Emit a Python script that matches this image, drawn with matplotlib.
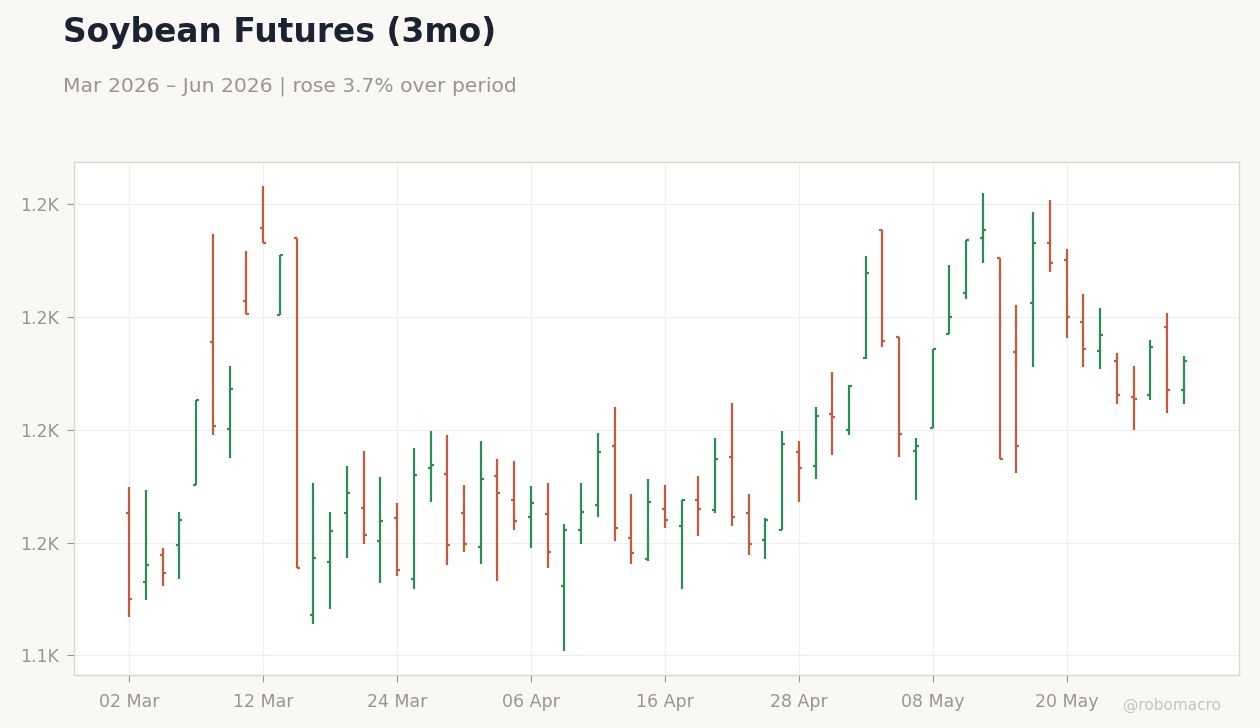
import matplotlib
matplotlib.use('Agg')
import matplotlib.pyplot as plt
from matplotlib.ticker import FuncFormatter
from decimal import Decimal, ROUND_HALF_UP
import pandas as pd

# trading days, Good Friday and Memorial Day closed
days = pd.bdate_range('2026-03-02', '2026-06-01')
days = days.drop([pd.Timestamp('2026-04-03'), pd.Timestamp('2026-05-25')])

opens = [1152.6, 1146.5, 1148.9, 1149.8, 1155.1, 1167.8, 1160.1, 1171.4, 1177.9, 1170.2,
         1177.0, 1143.6, 1148.3, 1152.6, 1153.1, 1150.1, 1152.2, 1146.8, 1156.6, 1156.1,
         1152.6, 1149.6, 1155.9, 1153.8, 1152.3, 1152.5, 1146.1, 1151.1, 1153.3, 1158.6,
         1150.4, 1148.5, 1153.0, 1151.5, 1153.8, 1152.9, 1157.6, 1152.6, 1150.2, 1151.1,
         1158.0, 1156.8, 1161.4, 1160.0, 1166.4, 1177.7, 1168.2, 1158.1, 1160.2, 1168.5,
         1172.1, 1177.0, 1175.2, 1166.9, 1171.2, 1176.6, 1175.1, 1169.6, 1167.0, 1166.1,
         1162.9, 1163.1, 1169.1, 1163.5]
highs = [1154.9, 1154.7, 1149.5, 1152.7, 1162.6, 1177.4, 1165.7, 1175.9, 1181.6, 1175.5,
         1177.0, 1155.3, 1152.7, 1156.8, 1158.1, 1155.8, 1153.5, 1158.4, 1159.9, 1159.5,
         1155.1, 1159.0, 1157.4, 1157.2, 1155.0, 1155.3, 1151.6, 1155.3, 1159.7, 1162.0,
         1154.3, 1155.6, 1155.1, 1153.8, 1155.9, 1159.3, 1162.4, 1154.3, 1152.2, 1159.9,
         1159.0, 1162.0, 1165.1, 1164.0, 1175.4, 1177.7, 1168.2, 1159.3, 1167.2, 1174.6,
         1176.8, 1181.0, 1175.2, 1171.1, 1179.3, 1180.4, 1176.0, 1172.0, 1170.8, 1166.8,
         1165.7, 1168.0, 1170.4, 1166.5]
lows = [1143.4, 1144.9, 1146.1, 1146.8, 1155.1, 1159.5, 1157.5, 1170.3, 1176.6, 1170.2,
        1147.7, 1142.8, 1144.1, 1148.6, 1149.9, 1146.4, 1147.0, 1145.9, 1153.6, 1148.0,
        1149.2, 1148.1, 1146.6, 1151.1, 1149.5, 1147.7, 1140.4, 1149.9, 1152.3, 1150.1,
        1148.1, 1148.4, 1151.3, 1145.9, 1150.6, 1152.6, 1151.5, 1148.9, 1148.5, 1151.1,
        1153.6, 1155.6, 1157.8, 1159.5, 1166.3, 1167.3, 1157.6, 1153.8, 1160.2, 1168.5,
        1171.6, 1174.8, 1157.4, 1156.2, 1165.6, 1174.0, 1168.1, 1165.6, 1165.4, 1162.3,
        1160.0, 1162.6, 1161.5, 1162.3]
closes = [1145.0, 1148.0, 1147.3, 1152.0, 1162.6, 1160.3, 1163.6, 1170.3, 1176.6, 1175.5,
          1147.7, 1148.6, 1151.0, 1154.4, 1150.7, 1151.9, 1147.6, 1156.0, 1156.9, 1149.8,
          1149.9, 1155.6, 1154.4, 1151.9, 1153.5, 1149.2, 1151.1, 1152.7, 1158.0, 1151.3,
          1149.1, 1153.6, 1152.0, 1153.8, 1153.0, 1157.4, 1152.3, 1149.9, 1152.0, 1158.7,
          1156.6, 1161.2, 1161.1, 1163.9, 1173.9, 1167.9, 1159.6, 1158.6, 1167.2, 1170.0,
          1176.8, 1177.7, 1157.4, 1158.6, 1176.6, 1174.8, 1170.0, 1167.2, 1168.4, 1163.1,
          1162.7, 1167.3, 1163.5, 1166.1]

up_color = '#2e8b57'
down_color = '#c85a3c'
text_grey = '#9a958f'

size = (1260, 728)
dpi = 100
fig = plt.figure(figsize=(size[0]/dpi, size[1]/dpi), dpi=dpi, facecolor='#f9f8f5')
ax = fig.add_axes([74/1260, 1 - 675/728, (1239 - 74)/1260, (675 - 162)/728])
ax.set_facecolor('white')

x = list(range(len(days)))
colors = [up_color if c >= o else down_color for o, c in zip(opens, closes)]
tw = 0.18
ax.vlines(x, lows, highs, colors=colors, lw=1.6)
ax.hlines(opens, [i - tw for i in x], x, colors=colors, lw=1.6)
ax.hlines(closes, x, [i + tw for i in x], colors=colors, lw=1.6)

ax.set_xlim(-3.3, 66.3)
ax.set_ylim(1138.25, 1183.75)

tick_idx = x[::8]
ax.set_xticks(tick_idx)
ax.set_xticklabels([days[i].strftime('%d %b') for i in tick_idx])
ax.set_yticks([1140, 1150, 1160, 1170, 1180])


def kfmt(v, pos):
    d = (Decimal(str(round(v))) / 1000).quantize(Decimal('0.1'), ROUND_HALF_UP)
    return f'{d}K'


ax.yaxis.set_major_formatter(FuncFormatter(kfmt))
ax.grid(True, color='#efefef', lw=0.8)
ax.set_axisbelow(True)
for s in ax.spines.values():
    s.set_color('#dcd7d0')
    s.set_linewidth(1)
ax.tick_params(axis='both', colors=text_grey, labelsize=12.5, length=5, width=0.8, pad=6)
ax.tick_params(axis='x', pad=8)

fig.text(63/1260, 1 - 42/728, 'Soybean Futures (3mo)', fontsize=23.7, fontweight='bold',
         color='#1b2333', va='baseline', ha='left')
fig.text(63/1260, 1 - 92/728, 'Mar 2026 \u2013 Jun 2026 | rose 3.7% over period', fontsize=14.6,
         color=text_grey, va='baseline', ha='left')
fig.text(1221/1260, 1 - 710/728, '@robomacro', fontsize=11, color='#c8c4be',
         va='baseline', ha='right')

plt.savefig('out.png', dpi=dpi, facecolor=fig.get_facecolor())
